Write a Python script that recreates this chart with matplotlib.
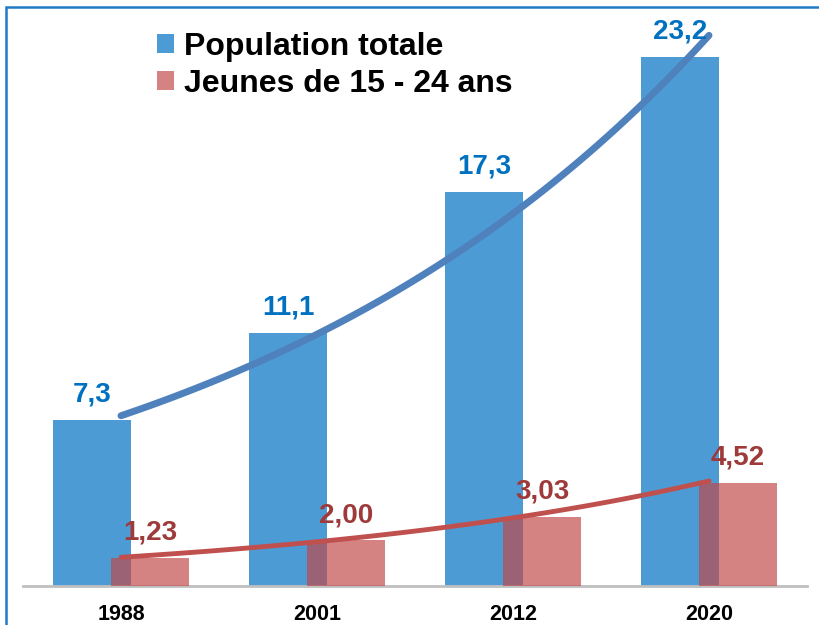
import matplotlib
matplotlib.use("Agg")
import matplotlib.pyplot as plt
from matplotlib.patches import Patch, Rectangle
import numpy as np

plt.rcParams['font.family'] = ['Liberation Sans', 'DejaVu Sans']

years = ['1988', '2001', '2012', '2020']
population = [7.3, 11.1, 17.3, 23.2]
jeunes = [1.23, 2.00, 3.03, 4.52]
pop_labels = ['7,3', '11,1', '17,3', '23,2']
jeunes_labels = ['1,23', '2,00', '3,03', '4,52']

blue = '#4D9BD5'
red = '#C04747'
trend_blue = '#4F81BD'
trend_red = '#C0504D'
lab_blue = '#0070C0'
lab_red = '#9E3A3A'

W, H = 819, 625
fig = plt.figure(figsize=(W / 100, H / 100), dpi=100)
ax = fig.add_axes([23 / W, 39 / H, 784 / W, 566 / H])

x = np.arange(len(years))
bw = 0.393
off = 0.148

ax.bar(x - off, population, bw, color=blue, zorder=2)
ax.bar(x + off, jeunes, bw, color=red, alpha=0.68, zorder=3)

# exponential trend lines (as in the original spreadsheet)
xs = np.linspace(0, 3, 100)
for vals, col, lw in [(population, trend_blue, 5), (jeunes, trend_red, 3.5)]:
    b, a = np.polyfit(x, np.log(vals), 1)
    ax.plot(xs, np.exp(a + b * xs), color=col, lw=lw, solid_capstyle='round', zorder=4)

for i in range(len(years)):
    ax.annotate(pop_labels[i], (x[i] - off, population[i]), xytext=(0, 13),
                textcoords='offset points', ha='center', va='baseline',
                fontsize=20, fontweight='bold', color=lab_blue, zorder=5)
    ax.annotate(jeunes_labels[i], (x[i] + off, jeunes[i]), xytext=(0, 13),
                textcoords='offset points', ha='center', va='baseline',
                fontsize=20, fontweight='bold', color=lab_red, zorder=5)

ax.set_xlim(-0.5, 3.5)
ax.set_ylim(0, 566 / 22.8)
ax.set_xticks(x)
ax.set_xticklabels(years, fontsize=15.5, fontweight='bold')
ax.tick_params(axis='x', length=0, pad=13)
ax.set_yticks([])
for s in ['top', 'left', 'right']:
    ax.spines[s].set_visible(False)
ax.spines['bottom'].set_color('#BFBFBF')
ax.spines['bottom'].set_linewidth(2)

handles = [Patch(facecolor=blue, edgecolor='none'),
           Patch(facecolor=red, alpha=0.68, edgecolor='none')]
fig.legend(handles, ['Population totale', 'Jeunes de 15 - 24 ans'],
           loc='upper left', bbox_to_anchor=(157 / W, 1 - 32 / H),
           frameon=False, prop={'size': 23, 'weight': 'bold'},
           handlelength=0.53, handleheight=0.53, handletextpad=0.3,
           labelspacing=0.22, borderpad=0, borderaxespad=0)

# chart frame (cropped at right and bottom)
fig.patches.append(Rectangle((6 / W, -0.1), 1.2, 1.1 - 7 / H, transform=fig.transFigure,
                             fill=False, edgecolor='#1F7BC6', lw=1.8))

fig.savefig('out.png', dpi=100)
